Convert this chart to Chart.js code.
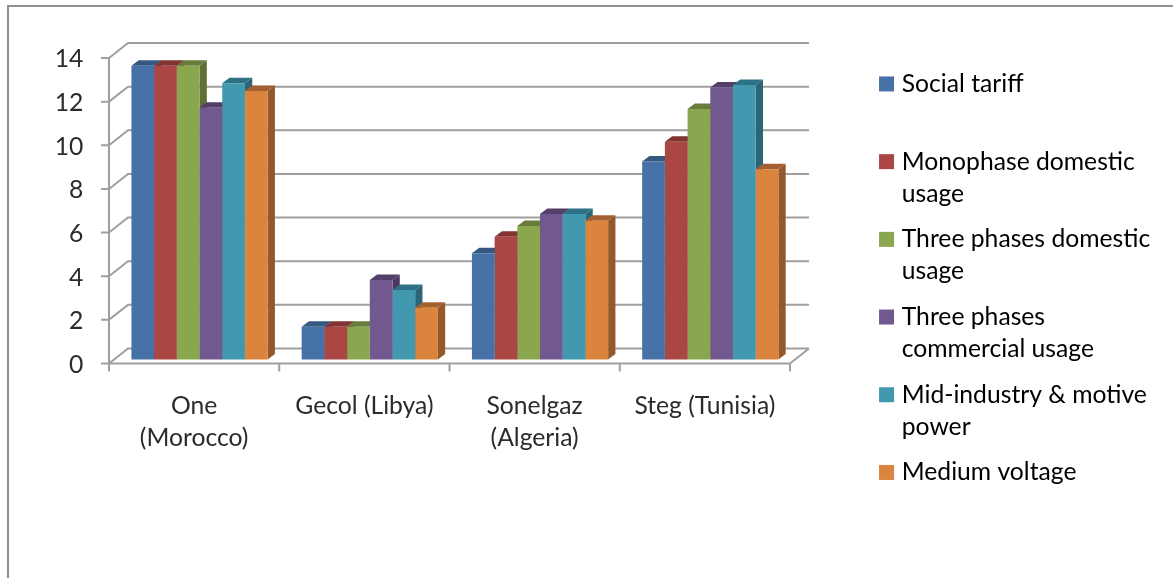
<!DOCTYPE html>
<html>
<head>
<meta charset="utf-8">
<style>
html,body{margin:0;padding:0;background:#fff;overflow:hidden}
#wrap{width:1173px;height:578px;position:relative}
canvas{display:block;filter:blur(0.45px)}
</style>
<script src="https://cdn.jsdelivr.net/npm/chart.js@4"></script>
</head>
<body>
<div id="wrap"><canvas id="c" width="1173" height="578"></canvas></div>
<script>
const categories = [["One", "(Morocco)"], "Gecol (Libya)", ["Sonelgaz", "(Algeria)"], "Steg (Tunisia)"];
const seriesNames = [
  ["Social tariff", ""],
  ["Monophase domestic", "usage"],
  ["Three phases domestic", "usage"],
  ["Three phases", "commercial usage"],
  ["Mid-industry & motive", "power"],
  ["Medium voltage", ""]
];
const socialTariff = [13.46, 1.5, 4.87, 9.07];
const monophaseDomestic = [13.46, 1.5, 5.63, 9.98];
const threePhasesDomestic = [13.46, 1.5, 6.12, 11.48];
const threePhasesCommercial = [11.54, 3.64, 6.67, 12.47];
const midIndustry = [12.66, 3.18, 6.67, 12.58];
const mediumVoltage = [12.3, 2.37, 6.36, 8.72];
const seriesValues = [socialTariff, monophaseDomestic, threePhasesDomestic, threePhasesCommercial, midIndustry, mediumVoltage];
const frontColors = ["#4672A8", "#AA4644", "#8AA64F", "#71588F", "#4198AF", "#DB843D"];
const topColors = ["#35587F", "#813432", "#687D3B", "#543F6B", "#2E7085", "#A46030"];
const sideColors = ["#2F4E72", "#73302E", "#5E7033", "#4B385F", "#2B6577", "#94592A"];

const FONT = "Lato, Carlito, Calibri, sans-serif";
const FS = 24.7;
const TEXT = "#2b2b2b";
const GRID = "#9f9f9f";

const DEPTH_X = 19, DEPTH_Y = 15;      // wall offset of the 3D box
const BAR_DX = 7.3, BAR_DY = 5.5;      // depth of each bar
const AXIS_SHIFT = 5.4;                // front axis sits left of the bar plot

const depthPlugin = {
  id: "depth",
  afterLayout(chart) {
    const lg = chart.legend;
    lg.left = 870; lg.right = 1173; lg.top = 57.9; lg.bottom = 578;
  },
  beforeDraw(chart) {
    const ctx = chart.ctx;
    ctx.save();
    ctx.strokeStyle = "#8f8f8f"; ctx.lineWidth = 2;
    ctx.beginPath(); ctx.moveTo(8, 578); ctx.lineTo(8, 6); ctx.lineTo(1173, 6); ctx.stroke();
    ctx.restore();
  },
  beforeDatasetsDraw(chart) {
    const ctx = chart.ctx, y = chart.scales.y, x = chart.scales.x;
    const left = x.left - AXIS_SHIFT, right = x.right - AXIS_SHIFT;
    const y0 = y.getPixelForValue(0), y1 = y.getPixelForValue(14);
    ctx.save();
    ctx.strokeStyle = GRID; ctx.lineWidth = 2; ctx.lineCap = "butt";
    // walls and grid
    y.ticks.forEach(t => {
      const py = y.getPixelForValue(t.value);
      ctx.beginPath();
      ctx.moveTo(left - 8, py); ctx.lineTo(left, py);
      ctx.lineTo(left + DEPTH_X, py - DEPTH_Y); ctx.lineTo(right + DEPTH_X, py - DEPTH_Y);
      ctx.stroke();
    });
    ctx.beginPath();
    ctx.moveTo(left, y1); ctx.lineTo(left, y0 + 8);
    ctx.moveTo(left, y0); ctx.lineTo(right, y0);
    ctx.moveTo(right, y0); ctx.lineTo(right + DEPTH_X, y0 - DEPTH_Y);
    ctx.stroke();
    const step = (right - left) / categories.length;
    for (let i = 1; i <= categories.length; i++) {
      const px = left + step * i;
      ctx.beginPath(); ctx.moveTo(px, y0); ctx.lineTo(px, y0 + 8); ctx.stroke();
    }
    // bar tops and sides
    chart.data.datasets.forEach((ds, di) => {
      chart.getDatasetMeta(di).data.forEach(bar => {
        const l = bar.x - bar.width / 2, r = bar.x + bar.width / 2, t = bar.y, b = bar.base;
        ctx.fillStyle = sideColors[di];
        ctx.beginPath();
        ctx.moveTo(r, t); ctx.lineTo(r + BAR_DX, t - BAR_DY);
        ctx.lineTo(r + BAR_DX, b - BAR_DY); ctx.lineTo(r, b);
        ctx.closePath(); ctx.fill();
        ctx.fillStyle = topColors[di];
        ctx.beginPath();
        ctx.moveTo(l, t); ctx.lineTo(l + BAR_DX, t - BAR_DY);
        ctx.lineTo(r + BAR_DX, t - BAR_DY); ctx.lineTo(r, t);
        ctx.closePath(); ctx.fill();
      });
    });
    ctx.restore();
  }
};

new Chart(document.getElementById("c"), {
  type: "bar",
  data: {
    labels: categories,
    datasets: seriesValues.map((values, i) => ({
      label: seriesNames[i].join(" ").trim(),
      data: values,
      backgroundColor: frontColors[i],
      borderWidth: 0,
      yAxisID: "yBars",
      categoryPercentage: 0.8,
      barPercentage: 1
    }))
  },
  options: {
    responsive: false,
    animation: false,
    events: [],
    layout: { padding: { top: 58, left: 0, bottom: 0, right: 177.6 } },
    scales: {
      x: {
        grid: { display: false },
        border: { display: false },
        ticks: {
          color: TEXT,
          font: { family: FONT, size: FS, lineHeight: 32 / FS },
          padding: 19,
          labelOffset: -AXIS_SHIFT,
          maxRotation: 0,
          autoSkip: false
        },
        afterFit(s) { s.height = 214.5; }
      },
      y: {
        min: 0,
        max: 14,
        grid: { display: false },
        border: { display: false },
        ticks: {
          stepSize: 2,
          color: TEXT,
          padding: 23,
          labelOffset: 1.5,
          font: { family: FONT, size: FS }
        },
        afterFit(s) { s.width = 114.4; }
      },
      yBars: {
        display: false,
        min: -0.183,
        max: 13.817
      }
    },
    plugins: {
      title: { display: false },
      tooltip: { enabled: false },
      legend: {
        position: "right",
        align: "start",
        maxWidth: 200,
        labels: {
          usePointStyle: true,
          boxWidth: 5.7,
          boxHeight: 15,
          padding: 13.7,
          color: TEXT,
          font: { family: FONT, size: FS, lineHeight: 32 / FS },
          generateLabels() {
            return seriesNames.map((text, i) => ({
              text,
              fillStyle: frontColors[i],
              strokeStyle: frontColors[i],
              lineWidth: 0,
              pointStyle: "rect",
              hidden: false,
              datasetIndex: i
            }));
          }
        }
      }
    }
  },
  plugins: [depthPlugin]
});
</script>
</body>
</html>
